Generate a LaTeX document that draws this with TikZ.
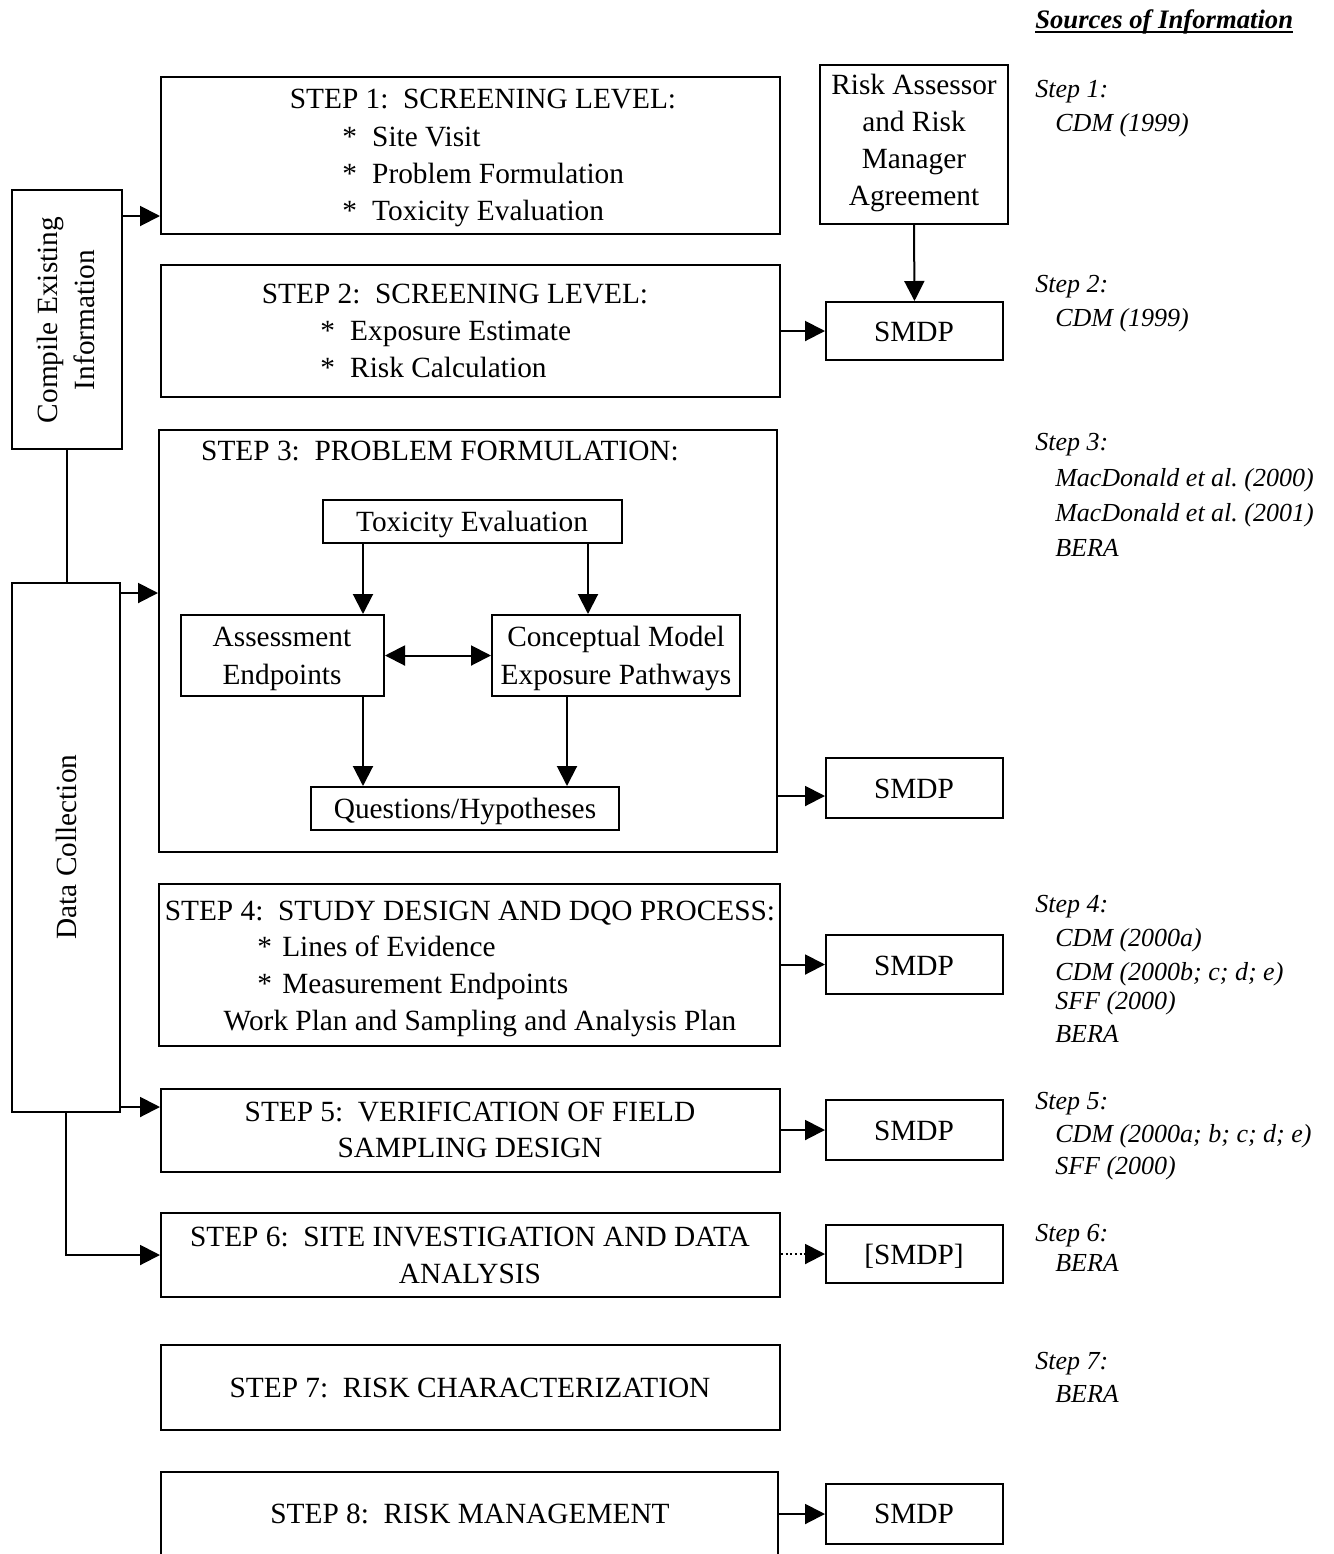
\documentclass[tikz,border=0pt]{standalone}
\usepackage{fontspec}
\setmainfont{Liberation Serif}
\usetikzlibrary{arrows.meta,fit}
\frenchspacing
\begin{document}
\begin{tikzpicture}[x=0.75pt,y=-0.75pt,
  box/.style={draw,line width=1.5pt,inner sep=0pt,fit={#1}},
  tx/.style={inner sep=0pt,anchor=base,font=\fontsize{22}{27.75}\selectfont},
  txl/.style={tx,anchor=base west},
  rot/.style={inner sep=0pt,rotate=90,align=center,font=\fontsize{22}{27.75}\selectfont},
  src/.style={inner sep=0pt,anchor=base west,font=\fontsize{19.5}{23}\selectfont\itshape},
  arr/.style={line width=1.5pt,-{Triangle[length=15pt,width=15pt]}},
  dbl/.style={line width=1.5pt,{Triangle[length=15pt,width=15pt]}-{Triangle[length=15pt,width=15pt]}},
  ln/.style={line width=1.5pt}]
\useasboundingbox (0,0) rectangle (1334,1554);
\clip (0,0) rectangle (1334,1554);
\frenchspacing

% sources header
\node[inner sep=0pt,anchor=base west,font=\fontsize{20}{24}\selectfont\bfseries\itshape] (hdr) at (1035,28) {Sources of Information};
\draw[line width=1.6pt] ([yshift=-3.2pt]hdr.base west) -- ([yshift=-3.2pt]hdr.base east);

% left boxes
\node[box={(12,190) (122,449)}] (ci) {};
\node[rot] (citx) at (66,320) {Compile Existing\\Information};
\node[box={(12,583) (120,1112)}] (dc) {};
\node[rot] (dctx) at (66,847) {Data Collection};

% step 1
\node[box={(161,77) (780,234)}] (s1) {};
\node[tx] (s1a) at (483,108) {STEP 1:\ \ SCREENING LEVEL:};
\node[txl] (s1b) at (342,146) {\makebox[22.5pt][l]{*}Site Visit};
\node[txl] (s1c) at (342,183) {\makebox[22.5pt][l]{*}Problem Formulation};
\node[txl] (s1d) at (342,220) {\makebox[22.5pt][l]{*}Toxicity Evaluation};

% risk assessor
\node[box={(820,65) (1008,224)}] (ra) {};
\node[tx,anchor=center,align=center] (ratx) at (914,143) {Risk Assessor\\and Risk\\Manager\\Agreement};

% step 2
\node[box={(161,265) (780,397)}] (s2) {};
\node[tx] (s2a) at (455,303) {STEP 2:\ \ SCREENING LEVEL:};
\node[txl] (s2b) at (320,340) {\makebox[22.5pt][l]{*}Exposure Estimate};
\node[txl] (s2c) at (320,377) {\makebox[22.5pt][l]{*}Risk Calculation};
\node[box={(826,302) (1003,360)}] (m1) {};
\node[tx] at (914,341) {SMDP};

% step 3
\node[box={(159,430) (777,852)}] (s3) {};
\node[tx] (s3a) at (440,460) {STEP 3:\ \ PROBLEM FORMULATION:};
\node[box={(323,500) (622,543)}] (te) {};
\node[tx] at (472,531) {Toxicity Evaluation};
\node[box={(181,615) (384,696)}] (ae) {};
\node[tx] at (282,646) {Assessment};
\node[tx] at (282,684) {Endpoints};
\node[box={(492,615) (740,696)}] (cm) {};
\node[tx] at (616,646) {Conceptual Model};
\node[tx] at (616,684) {Exposure Pathways};
\node[box={(311,787) (619,830)}] (qh) {};
\node[tx] at (465,818) {Questions/Hypotheses};
\node[box={(826,758) (1003,818)}] (m2) {};
\node[tx] at (914,798) {SMDP};

% step 4
\node[box={(159,884) (780,1046)}] (s4) {};
\node[tx] at (470,920) {STEP 4:\ \ STUDY DESIGN AND DQO PROCESS:};
\node[txl] at (257,956) {\makebox[18.75pt][l]{*}Lines of Evidence};
\node[txl] at (257,993) {\makebox[18.75pt][l]{*}Measurement Endpoints};
\node[tx] at (480,1030) {Work Plan and Sampling and Analysis Plan};
\node[box={(826,935) (1003,994)}] (m3) {};
\node[tx] at (914,975) {SMDP};

% step 5
\node[box={(161,1089) (780,1172)}] (s5) {};
\node[tx] at (470,1121) {STEP 5:\ \ VERIFICATION OF FIELD};
\node[tx] at (470,1157) {SAMPLING DESIGN};
\node[box={(826,1100) (1003,1160)}] (m4) {};
\node[tx] at (914,1140) {SMDP};

% step 6
\node[box={(161,1213) (780,1297)}] (s6) {};
\node[tx] at (470,1246) {STEP 6:\ \ SITE INVESTIGATION AND DATA};
\node[tx] at (470,1283) {ANALYSIS};
\node[box={(826,1225) (1003,1283)}] (m6) {};
\node[tx] at (914,1264) {[SMDP]};

% step 7
\node[box={(161,1345) (780,1430)}] (s7) {};
\node[tx] at (470,1397) {STEP 7:\ \ RISK CHARACTERIZATION};

% step 8
\node[box={(161,1472) (778,1580)}] (s8) {};
\node[tx] at (470,1523) {STEP 8:\ \ RISK MANAGEMENT};
\node[box={(826,1484) (1003,1544)}] (m5) {};
\node[tx] at (914,1523) {SMDP};

% connectors
\draw[arr] (ci.east |- 0,216) -- (s1.west |- 0,216);
\draw[ln] (ci.south) -- (ci.south |- dc.north);
\draw[arr] (dc.east |- 0,593) -- (s3.west |- 0,593);
\draw[arr] (dc.east |- 0,1107) -- (s5.west |- 0,1107);
\draw[arr] (dc.south) |- (s6.west);
\draw[arr] (ra.south) -- (m1.north);
\draw[arr] (s2.east |- m1.west) -- (m1.west);
\draw[arr] (s3.east |- 0,796) -- (m2.west |- 0,796);
\draw[arr] (s4.east |- m3.west) -- (m3.west);
\draw[arr] (s5.east |- m4.west) -- (m4.west);
\draw[line width=1.5pt,dotted] (s6.east |- m6.west) -- ([xshift=-15pt]m6.west);
\draw[arr] ([xshift=-16pt]m6.west) -- (m6.west);
\draw[arr] (s8.east |- m5.west) -- (m5.west);
\draw[arr] (te.south -| 363,0) -- (ae.north -| 363,0);
\draw[arr] (te.south -| 588,0) -- (cm.north -| 588,0);
\draw[dbl] (ae.east) -- (cm.west);
\draw[arr] (ae.south -| 363,0) -- (qh.north -| 363,0);
\draw[arr] (cm.south -| 567,0) -- (qh.north -| 567,0);

% sources text
\node[src] at (1035,97) {Step 1:};
\node[src] at (1055,131) {CDM (1999)};
\node[src] at (1035,292) {Step 2:};
\node[src] at (1055,326) {CDM (1999)};
\node[src] at (1035,450) {Step 3:};
\node[src] at (1055,486) {MacDonald et al. (2000)};
\node[src] at (1055,521) {MacDonald et al. (2001)};
\node[src] at (1055,556) {BERA};
\node[src] at (1035,912) {Step 4:};
\node[src] at (1055,946) {CDM (2000a)};
\node[src] at (1055,980) {CDM (2000b; c; d; e)};
\node[src] at (1055,1009) {SFF (2000)};
\node[src] at (1055,1042) {BERA};
\node[src] at (1035,1109) {Step 5:};
\node[src] at (1055,1142) {CDM (2000a; b; c; d; e)};
\node[src] at (1055,1174) {SFF (2000)};
\node[src] at (1035,1241) {Step 6:};
\node[src] at (1055,1271) {BERA};
\node[src] at (1035,1369) {Step 7:};
\node[src] at (1055,1402) {BERA};
\end{tikzpicture}
\end{document}
